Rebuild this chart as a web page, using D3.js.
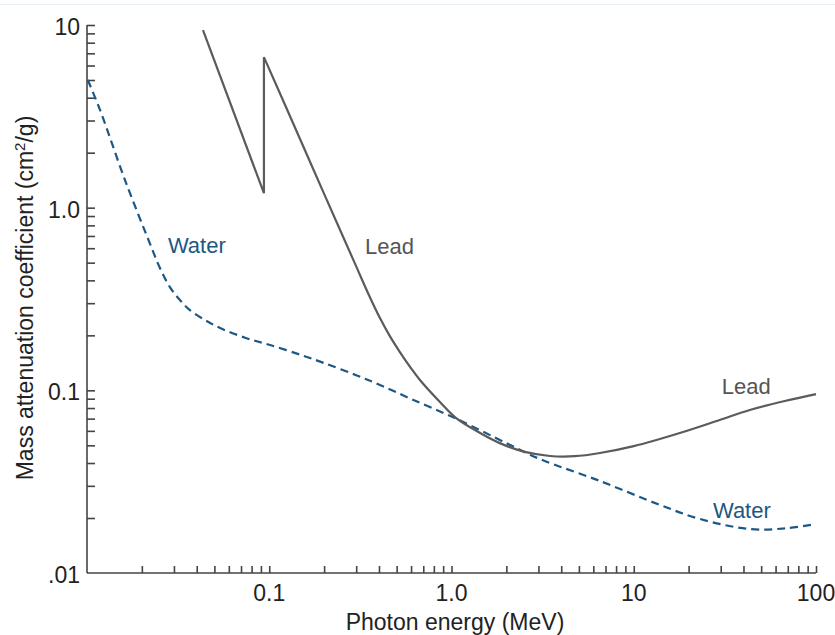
<!DOCTYPE html>
<html><head><meta charset="utf-8">
<script src="https://cdn.jsdelivr.net/npm/d3@7"></script>
<style>body{margin:0;background:#fff;} svg{display:block;} text{font-family:"Liberation Sans",Arial,sans-serif;}</style>
</head><body>
<svg id="c" width="835" height="635"></svg>
<script>
// Data (MeV, cm^2/g)
const waterEnergy = [0.0101, 0.0118, 0.01616, 0.0222, 0.02514, 0.0285, 0.03236, 0.0367, 0.0444, 0.0537, 0.075, 0.101, 0.15, 0.2, 0.3, 0.405, 0.6, 1.044, 2.0, 3.05, 6.52, 13.9, 23.1, 43.3, 70, 99.8];
const waterCoef   = [5.0,    3.42,   1.416,   0.632,  0.467,   0.3677, 0.312,   0.275,  0.2426, 0.2193, 0.193, 0.177, 0.156, 0.141, 0.121, 0.107, 0.0897, 0.0705, 0.0514, 0.0421, 0.0319, 0.0236, 0.01975, 0.0174, 0.0176, 0.01855];
const leadLowEnergy = [0.0433, 0.0935, 0.0935];
const leadLowCoef   = [9.37,   1.20,   6.67];
const leadHighEnergy = [0.0935, 0.15, 0.2,  0.3,   0.35,  0.405,  0.459, 0.521, 0.599,  0.671,  0.864,  1.044,  1.344,  1.84,   2.527, 3.47,   4.75,   6.52,   10,     17.9,   29.6,   43.3,  67.4,   100];
const leadHighCoef   = [6.67,   2.29, 1.19, 0.477, 0.337, 0.2487, 0.198, 0.162, 0.1324, 0.1139, 0.0863, 0.0714, 0.0606, 0.0514, 0.046, 0.0437, 0.0436, 0.0454, 0.0495, 0.0584, 0.0688, 0.078, 0.0874, 0.0954];
const xTickValues = [0.1, 1, 10, 100];
const xTickLabels = ["0.1", "1.0", "10", "100"];
const yTickValues = [0.01, 0.1, 1, 10];
const yTickLabels = [".01", "0.1", "1.0", "10"];
const seriesLabels = [
  {text: "Water", x: 0.0278, y: 0.564, cls: "water"},
  {text: "Lead",  x: 0.335,  y: 0.56,  cls: "lead"},
  {text: "Lead",  x: 30.4,   y: 0.0954, cls: "lead"},
  {text: "Water", x: 27.2,   y: 0.02,  cls: "water"}
];

const svg = d3.select("#c");
const L = 87, R = 816, T = 25, B = 573;
const x = d3.scaleLog().domain([0.01, 100]).range([L, R]);
const y = d3.scaleLog().domain([0.01, 10]).range([B, T]);
const axisColor = "#444";
const leadColor = "#5b5b5b";
const waterColor = "#1d5784";
const fs = 23;

// faint top rule
svg.append("line").attr("x1",0).attr("x2",835).attr("y1",4.5).attr("y2",4.5).attr("stroke","#e6eef6").attr("stroke-width",1);

// minor ticks
const minorX = [];
for (let d = 0.01; d < 100; d *= 10) for (let k = 2; k <= 10; k++) minorX.push(d * k);
const minorY = [];
for (let d = 0.01; d < 10; d *= 10) for (let k = 2; k <= 10; k++) minorY.push(d * k);

const xAxis = d3.axisBottom(x).tickValues(minorX).tickSize(-7).tickFormat("");
const gx = svg.append("g").attr("transform",`translate(0,${B})`).call(xAxis);
gx.select(".domain").attr("d", `M${L},0H${R}`);
const yAxis = d3.axisLeft(y).tickValues(minorY).tickSize(-8).tickFormat("");
const gy = svg.append("g").attr("transform",`translate(${L},0)`).call(yAxis);
gy.select(".domain").attr("d", `M0,${T}V${B}`);
[gx, gy].forEach(g => {
  g.selectAll("path,line").attr("stroke", axisColor).attr("stroke-width", 1.6);
});

// tick labels
svg.append("g").selectAll("text").data(xTickValues).join("text")
  .attr("x", d => x(d)).attr("y", 601).attr("text-anchor","middle")
  .attr("font-size", fs).attr("fill","#222").text((d,i) => xTickLabels[i]);
svg.append("g").selectAll("text").data(yTickValues).join("text")
  .attr("x", 80).attr("y", d => y(d) + 10).attr("text-anchor","end")
  .attr("font-size", fs).attr("fill","#222").text((d,i) => yTickLabels[i]);

// axis titles
svg.append("text").attr("x", 455).attr("y", 630).attr("text-anchor","middle")
  .attr("font-size", fs).attr("fill","#222").text("Photon energy (MeV)");
const yt = svg.append("text").attr("transform","translate(33,298) rotate(-90)")
  .attr("text-anchor","middle").attr("font-size", fs).attr("fill","#222");
yt.append("tspan").text("Mass attenuation coefficient (cm");
yt.append("tspan").attr("dy",-8).attr("font-size",15).text("2");
yt.append("tspan").attr("dy",8).text("/g)");

// lines
const lineLin = d3.line().x(d => x(d[0])).y(d => y(d[1])).curve(d3.curveLinear);
const lineSmooth = d3.line().x(d => x(d[0])).y(d => y(d[1])).curve(d3.curveCatmullRom.alpha(0.5));

const water = waterEnergy.map((e,i) => [e, waterCoef[i]]);
svg.append("path").datum(water).attr("d", lineSmooth).attr("fill","none")
  .attr("stroke", waterColor).attr("stroke-width", 2.2).attr("stroke-dasharray","8,5");

const leadLow = leadLowEnergy.map((e,i) => [e, leadLowCoef[i]]);
svg.append("path").datum(leadLow).attr("d", lineLin).attr("fill","none")
  .attr("stroke", leadColor).attr("stroke-width", 2.2).attr("stroke-linejoin","miter");
const leadHigh = leadHighEnergy.map((e,i) => [e, leadHighCoef[i]]);
svg.append("path").datum(leadHigh).attr("d", lineSmooth).attr("fill","none")
  .attr("stroke", leadColor).attr("stroke-width", 2.2);

// series labels
svg.append("g").selectAll("text").data(seriesLabels).join("text")
  .attr("x", d => x(d.x)).attr("y", d => y(d.y)).attr("font-size", 22)
  .attr("fill", d => d.cls === "water" ? waterColor : "#555")
  .text(d => d.text);
</script>
</body></html>
